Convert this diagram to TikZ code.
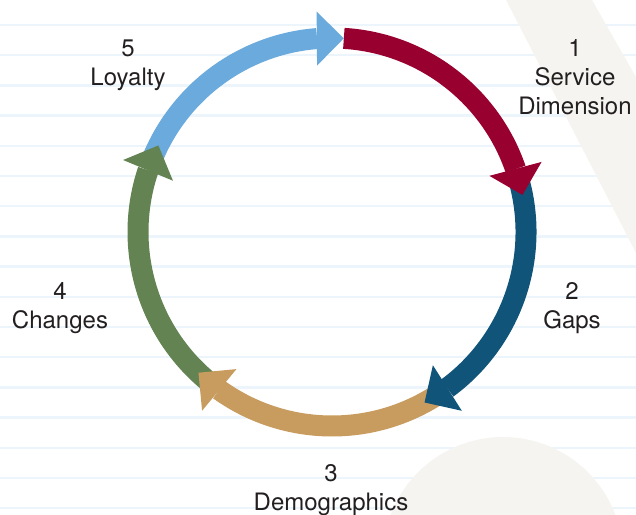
\documentclass[tikz,border=0pt]{standalone}
\usepackage{fontspec}
\setmainfont{TeX Gyre Heros}
\usetikzlibrary{arrows.meta,bending}

\definecolor{ringred}{RGB}{152,0,48}
\definecolor{ringblue}{RGB}{16,84,122}
\definecolor{ringtan}{RGB}{200,155,94}
\definecolor{ringgreen}{RGB}{99,131,82}
\definecolor{ringsky}{RGB}{106,170,220}
\definecolor{ruleblue}{RGB}{236,245,251}
\definecolor{paper}{RGB}{245,244,240}
\definecolor{ink}{RGB}{35,31,32}

\tikzset{
  ring/.style={line width=21pt, -{Triangle[width=54pt,length=27pt,line width=0pt]}},
  lbl/.style={align=center, anchor=north, inner sep=0pt, text=ink,
    font=\fontsize{24}{29}\selectfont}
}

\begin{document}
\begin{tikzpicture}[x=1pt,y=1pt]
		\useasboundingbox (0,0) rectangle (636,514);
		\begin{scope}
			\clip (0,0) rectangle (636,514);
			\foreach \k in {0,...,16}
				\draw[ruleblue, line width=2.5pt] (0,489-30.2*\k) -- (636,489-30.2*\k);
			\fill[paper] (506,514) -- (592,514) -- (636,437) -- (636,261) -- cycle;
			\fill[paper] (503,-43) circle (120);
		\end{scope}

		% ring of five arrows
		\coordinate (c) at (332,282);
		\coordinate (s1) at ([shift={(86.5:194)}]c);
		\coordinate (s2) at ([shift={(15:194)}]c);
		\coordinate (s3) at ([shift={(-57.5:194)}]c);
		\coordinate (s4) at ([shift={(-129.5:194)}]c);
		\coordinate (s5) at ([shift={(157.5:194)}]c);

		\draw[ring, ringsky] (s5) arc[start angle=157.5, end angle=86.5, radius=194];
		\draw[ring, ringgreen] (s4) arc[start angle=-129.5, end angle=-206.5, radius=194];
		\draw[ring, ringtan] (s3) arc[start angle=-57.5, end angle=-133.5, radius=194];
		\draw[ring, ringblue] (s2) arc[start angle=15, end angle=-61.5, radius=194];
		\draw[ring, ringred] (s1) arc[start angle=86.5, end angle=11, radius=194];

		\node[lbl] (l1) at (575,475) {1\\Service\\Dimension};
		\node[lbl] (l2) at (572,232) {2\\Gaps};
		\node[lbl] (l3) at (331,50) {3\\Demographics};
		\node[lbl] (l4) at (60,232) {4\\Changes};
		\node[lbl] (l5) at (128,474) {5\\Loyalty};
\end{tikzpicture}
\end{document}
